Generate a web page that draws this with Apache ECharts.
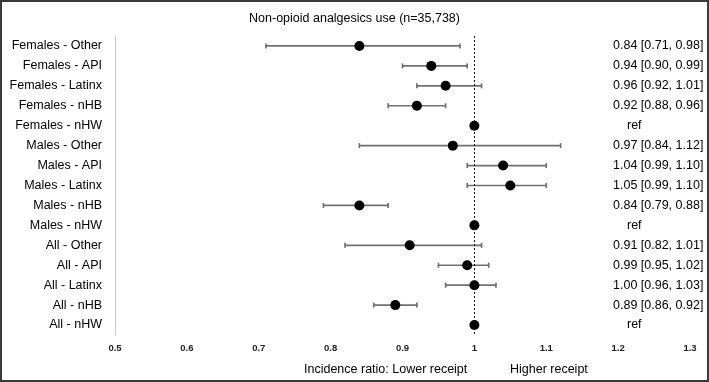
<!DOCTYPE html>
<html>
<head>
<meta charset="utf-8">
<script src="https://cdn.jsdelivr.net/npm/echarts@6/dist/echarts.min.js"></script>
<style>
  html, body { margin: 0; padding: 0; background: #fff; }
  #main { width: 709px; height: 382px; }
</style>
</head>
<body>
<div id="main"></div>
<script>
  // rows, top to bottom
  var groups = ['Females - Other', 'Females - API', 'Females - Latinx', 'Females - nHB', 'Females - nHW',
                'Males - Other', 'Males - API', 'Males - Latinx', 'Males - nHB', 'Males - nHW',
                'All - Other', 'All - API', 'All - Latinx', 'All - nHB', 'All - nHW'];
  var ratios = [0.84, 0.94, 0.96, 0.92, 1.00, 0.97, 1.04, 1.05, 0.84, 1.00, 0.91, 0.99, 1.00, 0.89, 1.00];
  var lower  = [0.71, 0.90, 0.92, 0.88, null, 0.84, 0.99, 0.99, 0.79, null, 0.82, 0.95, 0.96, 0.86, null];
  var upper  = [0.98, 0.99, 1.01, 0.96, null, 1.12, 1.10, 1.10, 0.88, null, 1.01, 1.02, 1.03, 0.92, null];
  var isRef  = [false, false, false, false, true, false, false, false, false, true, false, false, false, false, true];
  var xMin = 0.5, xMax = 1.3, xStep = 0.1;

  var font = '"Liberation Sans", Arial, Helvetica, sans-serif';
  var myChart = echarts.init(document.getElementById('main'));

  // ci text shown on the right
  var ciText = groups.map(function (g, i) {
    if (isRef[i]) return '{r|ref}';
    return ratios[i].toFixed(2) + ' [' + lower[i].toFixed(2) + ', ' + upper[i].toFixed(2) + ']';
  });

  var barData = [];
  var pointData = [];
  for (var i = 0; i < groups.length; i++) {
    pointData.push([ratios[i], i]);
    if (!isRef[i]) barData.push([lower[i], upper[i], i]);
  }

  function renderBar(params, api) {
    var a = api.coord([api.value(0), api.value(2)]);
    var b = api.coord([api.value(1), api.value(2)]);
    var cap = 2.5;
    var st = { stroke: '#707070', lineWidth: 1.7 };
    return {
      type: 'group',
      children: [
        { type: 'line', shape: { x1: a[0], y1: a[1], x2: b[0], y2: b[1] }, style: st },
        { type: 'line', shape: { x1: a[0], y1: a[1] - cap, x2: a[0], y2: a[1] + cap }, style: st },
        { type: 'line', shape: { x1: b[0], y1: b[1] - cap, x2: b[0], y2: b[1] + cap }, style: st }
      ]
    };
  }

  var option = {
    animation: false,
    backgroundColor: '#fff',
    title: [
      { text: 'Non-opioid analgesics use (n=35,738)', left: 'center', top: 7,
        textStyle: { fontFamily: font, fontSize: 12.5, fontWeight: 'normal', color: '#000' } },
      { text: 'Incidence ratio: Lower receipt', left: 299, top: 358,
        textStyle: { fontFamily: font, fontSize: 12.5, fontWeight: 'normal', color: '#000' } },
      { text: 'Higher receipt', left: 505, top: 358,
        textStyle: { fontFamily: font, fontSize: 12.5, fontWeight: 'normal', color: '#000' } }
    ],
    graphic: [{
      type: 'rect', shape: { x: 1, y: 1, width: 707, height: 380 },
      style: { fill: 'none', stroke: '#3a3a3a', lineWidth: 2 }, silent: true
    }],
    grid: { left: 115, right: 19, top: 36, bottom: 47 },
    xAxis: {
      type: 'value', min: xMin, max: xMax, interval: xStep,
      axisLine: { show: false }, axisTick: { show: false }, splitLine: { show: false },
      axisLabel: { fontFamily: font, fontSize: 9.5, fontWeight: 'bold', color: '#222', margin: 8 }
    },
    yAxis: [{
      type: 'category', data: groups, inverse: true,
      axisLine: { show: true, lineStyle: { color: '#c8c8c8', width: 1 } },
      axisTick: { show: false },
      axisLabel: { fontFamily: font, fontSize: 12.5, color: '#000', margin: 13 }
    }, {
      type: 'category', data: groups, inverse: true, position: 'right',
      axisLine: { show: false }, axisTick: { show: false },
      axisLabel: {
        inside: true, align: 'left', margin: 77,
        fontFamily: font, fontSize: 12.5, color: '#000',
        formatter: function (v, i) { return ciText[i]; },
        rich: { r: { fontFamily: font, fontSize: 12.5, color: '#000', padding: [0, 0, 0, 14] } }
      }
    }],
    series: [{
      type: 'custom', name: 'CI', renderItem: renderBar, data: barData,
      encode: { x: [0, 1], y: 2 }, z: 2
    }, {
      type: 'scatter', name: 'ratio', data: pointData, symbolSize: 10,
      itemStyle: { color: '#000', opacity: 1 }, z: 3,
      markLine: {
        silent: true, symbol: 'none', label: { show: false },
        lineStyle: { type: [2, 2], color: '#111', width: 1 },
        data: [{ xAxis: 1 }]
      }
    }]
  };

  myChart.setOption(option);
</script>
</body>
</html>
